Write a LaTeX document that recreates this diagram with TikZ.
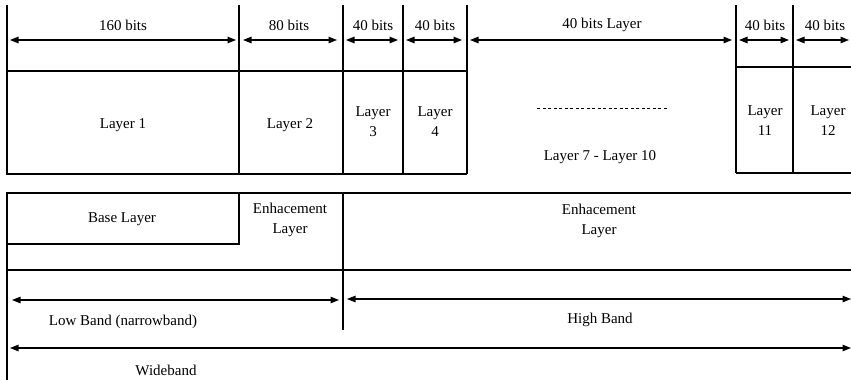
\documentclass[tikz,border=0pt]{standalone}
\usepackage{fontspec}
\setmainfont{Liberation Serif}
\usetikzlibrary{arrows.meta}
\begin{document}
\begin{tikzpicture}[x=1pt,y=-1pt,
  ln/.style={line width=1.1pt},
  dim/.style={line width=1.1pt,{Triangle[length=8.5pt,width=6.5pt]}-{Triangle[length=8.5pt,width=6.5pt]}},
  lbl/.style={font=\fontsize{15}{20}\selectfont,inner sep=0pt,align=center}]
\useasboundingbox (0,0) rectangle (851,380);
% ---------- top section ----------
\draw[ln] (7,5) -- (7,174) -- (467,174);
\draw[ln] (7,71) -- (467,71);
\draw[ln] (239,5) -- (239,174);
\draw[ln] (343,5) -- (343,174);
\draw[ln] (403,5) -- (403,174);
\draw[ln] (467,5) -- (467,174);
\draw[ln] (736,5) -- (736,173);
\draw[ln] (793,5) -- (793,173);
\draw[ln] (736,67) -- (851,67);
\draw[ln] (736,173) -- (851,173);
% dimension arrows
\coordinate (d1a) at (10,40);  \coordinate (d1b) at (236,40);
\coordinate (d2a) at (243,40); \coordinate (d2b) at (337,40);
\coordinate (d3a) at (346,40); \coordinate (d3b) at (398,40);
\coordinate (d4a) at (406,40); \coordinate (d4b) at (462,40);
\coordinate (d5a) at (470,40); \coordinate (d5b) at (732,40);
\coordinate (d6a) at (739,40); \coordinate (d6b) at (789,40);
\coordinate (d7a) at (796,40); \coordinate (d7b) at (849,40);
\draw[dim] (d1a) -- (d1b);
\draw[dim] (d2a) -- (d2b);
\draw[dim] (d3a) -- (d3b);
\draw[dim] (d4a) -- (d4b);
\draw[dim] (d5a) -- (d5b);
\draw[dim] (d6a) -- (d6b);
\draw[dim] (d7a) -- (d7b);
\node[lbl] (t1) at (123,25) {160 bits};
\node[lbl] (t2) at (289,25) {80 bits};
\node[lbl] (t3) at (373,25) {40 bits};
\node[lbl] (t4) at (435,25) {40 bits};
\node[lbl] (t5) at (602,25) {40 bits Layer};
\node[lbl] (t6) at (765,25) {40 bits};
\node[lbl] (t7) at (825,25) {40 bits};
\node[lbl] (L1) at (123,125) {Layer 1};
\node[lbl] (L2) at (290,125) {Layer 2};
\node[lbl] (L3) at (373,122) {Layer\\3};
\node[lbl] (L4) at (435,122) {Layer\\4};
\node[lbl] (L11) at (765,121) {Layer\\11};
\node[lbl] (L12) at (828,121) {Layer\\12};
\coordinate (dsa) at (537,108); \coordinate (dsb) at (668,108);
\draw[line width=0.8pt,dash pattern=on 3pt off 2.5pt] (dsa) -- (dsb);
\node[lbl] (L710) at (600,157) {Layer 7 - Layer 10};
% ---------- bottom section ----------
\draw[ln] (7,380) -- (7,193) -- (851,193);
\draw[ln] (7,244) -- (239,244) -- (239,193);
\draw[ln] (343,193) -- (343,330);
\draw[ln] (7,270) -- (851,270);
\node[lbl] (BL) at (122,219) {Base Layer};
\node[lbl] (EL1) at (290,220) {Enhacement\\Layer};
\node[lbl] (EL2) at (599,221) {Enhacement\\Layer};
\coordinate (lba) at (12,300); \coordinate (lbb) at (339,300);
\coordinate (hba) at (347,299); \coordinate (hbb) at (851,299);
\coordinate (wba) at (10,348); \coordinate (wbb) at (851,348);
\draw[dim] (lba) -- (lbb);
\draw[dim] (hba) -- (hbb);
\draw[dim] (wba) -- (wbb);
\node[lbl] (LB) at (123,322) {Low Band (narrowband)};
\node[lbl] (HB) at (600,320) {High Band};
\node[lbl] (WB) at (166,370) {Wideband};
\end{tikzpicture}
\end{document}
